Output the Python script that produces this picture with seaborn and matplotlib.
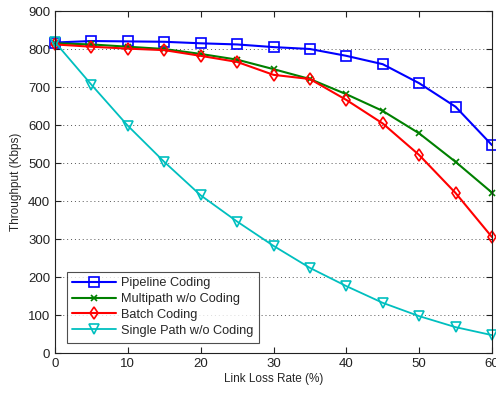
import matplotlib
matplotlib.use("Agg")
import matplotlib.pyplot as plt
import seaborn as sns
import pandas as pd

loss_rate = [0, 5, 10, 15, 20, 25, 30, 35, 40, 45, 50, 55, 60]
pipeline = [817, 821, 820, 819, 815, 812, 805, 800, 782, 760, 710, 648, 547]
multipath = [815, 812, 806, 800, 787, 772, 747, 721, 681, 637, 578, 503, 422]
batch = [812, 806, 801, 797, 782, 766, 732, 721, 666, 604, 521, 421, 305]
single = [818, 706, 598, 503, 415, 346, 282, 224, 176, 132, 97, 68, 47]

series = {
    "Pipeline Coding": pipeline,
    "Multipath w/o Coding": multipath,
    "Batch Coding": batch,
    "Single Path w/o Coding": single,
}
styles = {
    "Pipeline Coding": dict(color="#0000ff", marker="s", ms=6.5, lw=1.5),
    "Multipath w/o Coding": dict(color="#008000", marker="x", ms=4.5, lw=1.5),
    "Batch Coding": dict(color="#ff0000", marker="d", ms=6.5, lw=1.5),
    "Single Path w/o Coding": dict(color="#00bfbf", marker="v", ms=7, lw=1.3),
}

rows = []
for name, vals in series.items():
    for x, y in zip(loss_rate, vals):
        rows.append({"Link Loss Rate (%)": x, "Throughput (Kbps)": y, "series": name})
df = pd.DataFrame(rows)

sns.set_style("white")
plt.rcParams["font.family"] = ["Liberation Sans", "DejaVu Sans"]

fig = plt.figure(figsize=(4.96, 3.93), dpi=100)
ax = fig.add_axes([55 / 496, 1 - 353 / 393, (492 - 55) / 496, (353 - 11) / 393])

for name in series:
    st = styles[name]
    sub = df[df["series"] == name]
    sns.lineplot(data=sub, x="Link Loss Rate (%)", y="Throughput (Kbps)", ax=ax,
                 color=st["color"], marker=st["marker"], markersize=st["ms"],
                 linewidth=st["lw"], markerfacecolor="none",
                 markeredgecolor=st["color"], markeredgewidth=1.2,
                 label=name, clip_on=False)

ax.set_xlim(0, 60)
ax.set_ylim(0, 900)
ax.set_xticks(range(0, 61, 10))
ax.set_yticks(range(0, 901, 100))
ax.yaxis.grid(True, linestyle=(0, (1, 3)), color="#555555", linewidth=0.7)
ax.xaxis.grid(False)
ax.tick_params(direction="in", length=4, labelsize=9.5, colors="#222222",
               top=True, right=True, bottom=True, left=True)
for s in ax.spines.values():
    s.set_color("#222222")
    s.set_linewidth(0.8)
ax.set_xlabel("Link Loss Rate (%)", fontsize=8.5, labelpad=2)
ax.set_ylabel("Throughput (Kbps)", fontsize=8.5, labelpad=4)

leg = ax.legend(loc="lower left", bbox_to_anchor=(0.012, 0.012), fontsize=9.2,
                frameon=True, fancybox=False, edgecolor="#222222",
                borderpad=0.45, labelspacing=0.3, handlelength=3.4,
                handletextpad=0.4)
leg.get_frame().set_linewidth(0.8)

fig.savefig("out.png", dpi=100)
